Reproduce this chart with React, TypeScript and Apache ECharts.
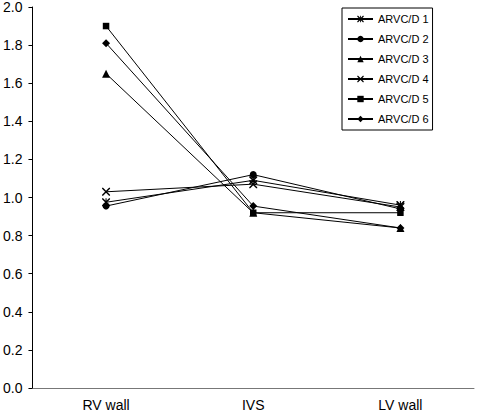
import React, { useEffect, useRef } from "react";
import * as echarts from "echarts";

const categories = ["RV wall", "IVS", "LV wall"];
const seriesNames = ["ARVC/D 1", "ARVC/D 2", "ARVC/D 3", "ARVC/D 4", "ARVC/D 5", "ARVC/D 6"];
const arvc1 = [0.975, 1.09, 0.96];
const arvc2 = [0.955, 1.12, 0.94];
const arvc3 = [1.65, 0.92, 0.84];
const arvc4 = [1.03, 1.07, 0.95];
const arvc5 = [1.9, 0.92, 0.92];
const arvc6 = [1.81, 0.955, 0.84];

const CROSS = "path://M0,0 L1.3,0 L10,8.7 L10,10 L8.7,10 L0,1.3 Z M10,0 L10,1.3 L1.3,10 L0,10 L0,8.7 L8.7,0 Z";
const STAR =
  "path://M0,0 L1.3,0 L10,8.7 L10,10 L8.7,10 L0,1.3 Z M10,0 L10,1.3 L1.3,10 L0,10 L0,8.7 L8.7,0 Z M4.35,0 L5.65,0 L5.65,10 L4.35,10 Z";

const symbols = [STAR, "circle", "triangle", CROSS, "rect", "diamond"];
const sizes = [8, 7, 8, 8, 6.5, 8];
const values = [arvc1, arvc2, arvc3, arvc4, arvc5, arvc6];

export default function App() {
  const ref = useRef<HTMLDivElement>(null);
  useEffect(() => {
    const chart = echarts.init(ref.current!, null, { renderer: "svg" });
    const font = "'Liberation Sans', Arial, sans-serif";
    chart.setOption({
      animation: false,
      backgroundColor: "#ffffff",
      textStyle: { fontFamily: font },
      grid: { left: 31, top: 7, right: 4, bottom: 26, containLabel: false },
      legend: {
        show: true,
        orient: "vertical",
        left: 342,
        top: 8,
        padding: [4, 4, 4, 5],
        itemGap: 6,
        itemWidth: 25,
        itemHeight: 8,
        borderColor: "#000",
        borderWidth: 1,
        borderRadius: 0,
        textStyle: { fontSize: 11, lineHeight: 14, color: "#000", fontFamily: font },
        data: seriesNames,
      },
      xAxis: {
        type: "category",
        data: categories,
        boundaryGap: true,
        axisLine: { lineStyle: { color: "#777", width: 1 } },
        axisTick: { alignWithLabel: true, length: 3, lineStyle: { color: "#777" } },
        axisLabel: { color: "#000", fontSize: 14, margin: 10, fontFamily: font },
        splitLine: { show: false },
      },
      yAxis: {
        type: "value",
        min: 0,
        max: 2,
        interval: 0.2,
        axisLine: { show: true, lineStyle: { color: "#000", width: 1 } },
        axisTick: { show: true, length: 4, lineStyle: { color: "#000" } },
        axisLabel: {
          color: "#000",
          fontSize: 14,
          margin: 10,
          fontFamily: font,
          formatter: (v: number) => v.toFixed(1),
        },
        splitLine: { show: false },
      },
      series: seriesNames.map((name, i) => ({
        name,
        type: "line",
        data: values[i],
        symbol: symbols[i],
        symbolSize: sizes[i],
        showSymbol: true,
        lineStyle: { color: "#000", width: 1 },
        itemStyle: { color: "#000", borderWidth: 0 },
        emphasis: { disabled: true },
      })),
    });
    return () => chart.dispose();
  }, []);
  return <div ref={ref} style={{ width: 478, height: 414, position: "absolute", left: 0, top: 0 }} />;
}
